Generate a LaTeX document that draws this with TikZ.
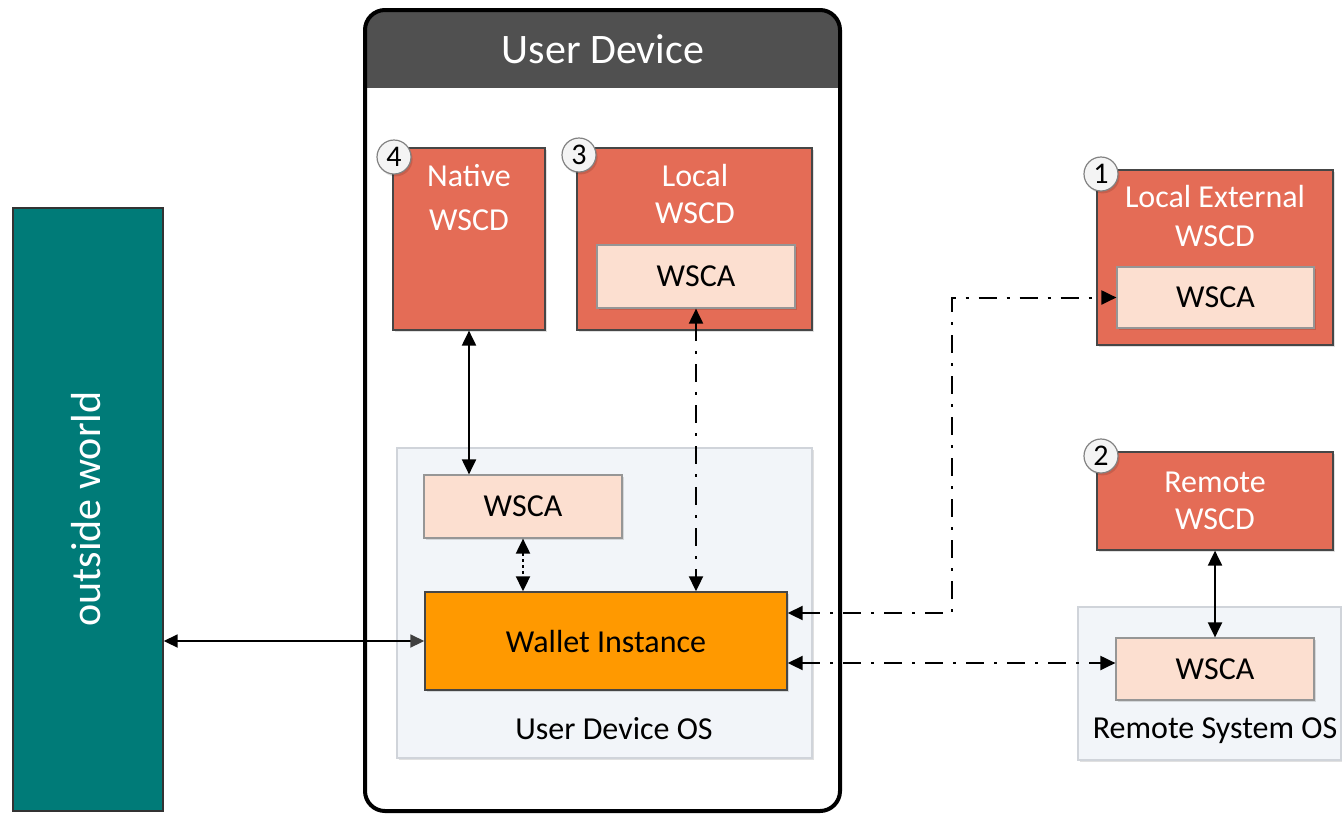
\documentclass[tikz,border=0pt]{standalone}
\usepackage{fontspec}
\setmainfont{Carlito}
\usetikzlibrary{arrows.meta,fit,calc,shadows}

\definecolor{wscdfill}{RGB}{228,108,86}
\definecolor{wscdline}{RGB}{70,70,70}
\definecolor{wscafill}{RGB}{252,223,208}
\definecolor{wscaline}{RGB}{150,150,150}
\definecolor{walletfill}{RGB}{255,153,0}
\definecolor{tealfill}{RGB}{0,123,120}
\definecolor{headerfill}{RGB}{80,80,80}
\definecolor{osfill}{RGB}{242,245,249}
\definecolor{osline}{RGB}{208,212,218}
\definecolor{badgefill}{RGB}{244,244,244}
\definecolor{badgeline}{RGB}{130,130,130}
\definecolor{tipgray}{RGB}{64,64,64}

\tikzset{
  soft/.style={drop shadow={shadow xshift=0.8pt, shadow yshift=-1.2pt, opacity=0.12, fill=black}},
  wscd/.style={draw=wscdline, fill=wscdfill, line width=0.6pt, inner sep=0pt, soft},
  wsca/.style={draw=wscaline, fill=wscafill, line width=0.6pt, inner sep=0pt, soft},
  osbox/.style={draw=osline, fill=osfill, line width=0.6pt, inner sep=0pt, soft},
  walletbox/.style={draw=wscdline, fill=walletfill, line width=0.7pt, inner sep=0pt, soft},
  worldbox/.style={draw=black!80, fill=tealfill, line width=0.7pt, inner sep=0pt},
  whitetxt/.style={text=white, align=center, inner sep=0pt},
  darktxt/.style={text=black, align=center, inner sep=0pt},
  label16/.style={font=\fontsize{16}{19}\selectfont},
  badge/.style={circle, draw=badgeline, fill=badgefill, line width=0.6pt, soft,
    minimum size=17pt, inner sep=0pt, font=\fontsize{15}{17}\selectfont},
  link/.style={line width=1pt, {Triangle[length=7.5pt,width=7pt]}-{Triangle[length=7.5pt,width=7pt]}},
  dashdot/.style={dash pattern=on 9pt off 5pt on 1.5pt off 5pt},
  dots/.style={dash pattern=on 1.5pt off 1.5pt},
}

\begin{document}
\begin{tikzpicture}[x=0.5pt,y=-0.5pt]
\useasboundingbox (0,0) rectangle (1342,814);

% outside world
\node[worldbox, fit={(13,208) (163,811)}] (world) {};
\node[whitetxt, rotate=90, font=\fontsize{21}{25}\selectfont] (worldtxt) at (86,509) {outside world};

% user device frame with dark title band
\begin{scope}
  \clip[rounded corners=10pt] (365,10) rectangle (840,811);
  \fill[headerfill] (365,10) rectangle (840,88);
\end{scope}
\node[fit={(365,10) (840,811)}, inner sep=0pt, draw=black, line width=2pt, rounded corners=10pt] (device) {};
\node[whitetxt, font=\fontsize{21}{25}\selectfont] (devtitle) at (603,49) {User Device};

% user device operating system
\node[osbox, fit={(397,448) (812,758)}] (udos) {};
\node[darktxt, label16] (udostxt) at (614,729) {User Device OS};

% native WSCD
\node[wscd, fit={(393,148) (545,330)}] (native) {};
\node[whitetxt, font=\fontsize{16}{22}\selectfont] (nativetxt) at (469,198) {Native\\WSCD};
\node[badge] (b4) at (394,157) {4};

% local WSCD
\node[wscd, fit={(577,148) (812,330)}] (local) {};
\node[whitetxt, font=\fontsize{16}{18.5}\selectfont] (localtxt) at (695,194) {Local\\WSCD};
\node[wsca, fit={(597,245) (795,308)}] (wscalocal) {};
\node[darktxt, label16] at (wscalocal) {WSCA};
\node[badge] (b3) at (579,155) {3};

% WSCA in the user device OS
\node[wsca, fit={(424,475) (622,538)}] (wscaos) {};
\node[darktxt, label16] at (wscaos) {WSCA};

% wallet instance
\node[walletbox, fit={(425,592) (787,690)}] (wallet) {};
\node[darktxt, label16] at (wallet) {Wallet Instance};

% local external WSCD
\node[wscd, fit={(1097,170) (1333,345)}] (extern) {};
\node[whitetxt, font=\fontsize{16}{19.5}\selectfont] (externtxt) at (1215,216) {Local External\\WSCD};
\node[wsca, fit={(1117,267) (1314,328)}] (wscaext) {};
\node[darktxt, label16] at (wscaext) {WSCA};
\node[badge] (b1) at (1101,174) {1};

% remote system
\node[osbox, fit={(1078,607) (1341,760)}] (rsos) {};
\node[darktxt, label16] (rsostxt) at (1215,731) {Remote System OS};
\node[wscd, fit={(1097,452) (1333,550)}] (remote) {};
\node[whitetxt, font=\fontsize{16}{18.5}\selectfont] (remotetxt) at (1215,501) {Remote\\WSCD};
\node[badge] (b2) at (1101,456) {2};
\node[wsca, fit={(1116,638) (1314,700)}] (wscarem) {};
\node[darktxt, label16] at (wscarem) {WSCA};

% connectors
\draw[line width=0.9pt, {Triangle[length=7pt,width=6.5pt]}-{Triangle[length=7pt,width=6.5pt,color=tipgray]}]
  (wallet.west -| world.east) -- (wallet.west);
\draw[link] (native.south) -- (native.south |- wscaos.north);
\draw[link, dots] (wscaos.south) -- (wscaos.south |- wallet.north);
\draw[link, dashdot] (wscalocal.south) -- (wscalocal.south |- wallet.north);
\coordinate (wup) at ($(wallet.east)+(0,-28)$);
\coordinate (bend) at (952,613);
\draw[link, dashdot] (wup) -- (bend) |- (wscaext.west);
\coordinate (wdown) at ($(wallet.east)+(0,22)$);
\draw[link, dashdot] (wdown) -- (wdown -| wscarem.west);
\draw[link] (remote.south) -- (wscarem.north);
\end{tikzpicture}
\end{document}
